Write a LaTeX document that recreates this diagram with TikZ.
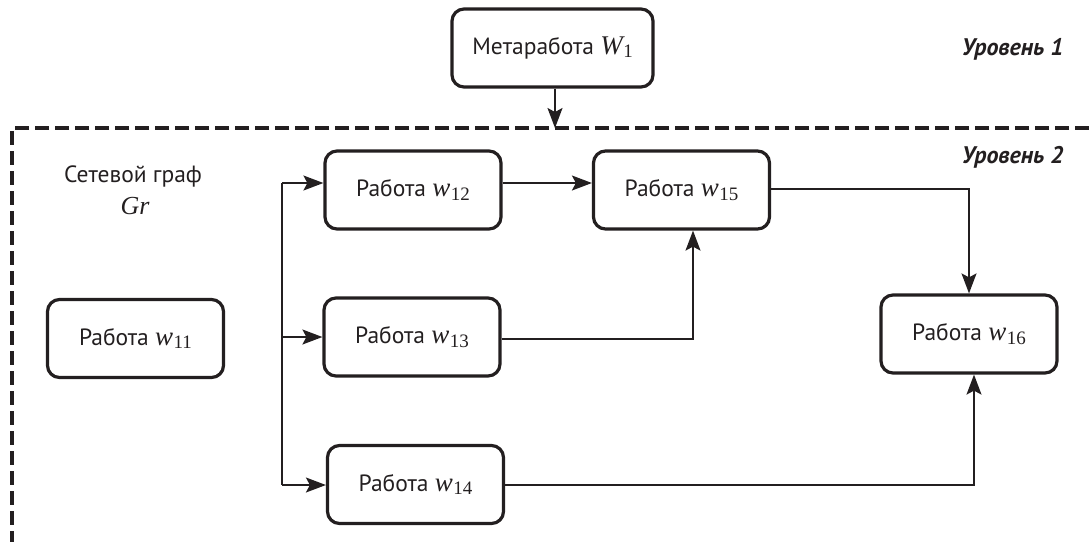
\documentclass[tikz,border=0pt]{standalone}
\usepackage{fontspec}
\setmainfont{PT Sans}
\newfontfamily\tmsfam{Liberation Serif}
\usetikzlibrary{arrows.meta}
\definecolor{ink}{HTML}{231F20}
\newcommand\wsub[2]{{\tmsfam\itshape\fontsize{27}{27}\selectfont #1}\kern0.5pt{\tmsfam\fontsize{19}{19}\selectfont\raisebox{-0.4ex}{#2}}}
\begin{document}
\begin{tikzpicture}[x=1pt,y=-1pt,
  box/.style={draw=ink, text=ink, line width=3.2pt, rounded corners=12pt, minimum width=176pt, minimum height=78pt, font=\fontsize{23.5}{27}\selectfont, inner sep=0pt},
  conn/.style={draw=ink, line width=1.6pt, -{Stealth[length=20pt,width=15pt,inset=4pt]}},
  plain/.style={draw=ink, line width=1.6pt},
  lvl/.style={text=ink, font=\fontsize{24}{27}\selectfont\bfseries\itshape},
  lbl/.style={text=ink, font=\fontsize{23.5}{27}\selectfont}]
\useasboundingbox (0,0) rectangle (1089,542);

% level frame
\draw[ink, line width=3.2pt, dash pattern=on 14pt off 6pt] (1089,128) -- (12,128) -- (12,542);

% nodes
\node[box, minimum width=201pt] (meta) at (552.5,48) {Метаработа \wsub{W}{1}};
\node[box] (w11) at (135.5,338.5) {Работа \wsub{w}{11}};
\node[box] (w12) at (413,190) {Работа \wsub{w}{12}};
\node[box] (w13) at (412,337) {Работа \wsub{w}{13}};
\node[box] (w14) at (415.5,484.5) {Работа \wsub{w}{14}};
\node[box] (w15) at (681.5,190) {Работа \wsub{w}{15}};
\node[box] (w16) at (969,334) {Работа \wsub{w}{16}};

\node[lbl] (gr1) at (133,176) {Сетевой граф};
\node[lbl] (gr2) at (135,206) {\tmsfam\itshape\fontsize{26}{27}\selectfont Gr};
\node[lvl, anchor=east] (l1) at (1067,49) {Уровень 1};
\node[lvl, anchor=east] (l2) at (1067,157) {Уровень 2};

% helper coordinates
\coordinate (top) at (555,128);
\coordinate (b1) at (282,183);
\coordinate (b2) at (282,337);
\coordinate (b3) at (282,485);
\coordinate (y13) at (0,339);
\coordinate (y15) at (0,189);
\coordinate (y14) at (0,485);

% connectors
\draw[conn] ([xshift=2.5pt]meta.south) -- (top);
\draw[plain] (b1) -- (b3);
\draw[conn] (b1) -- (w12.west |- b1);
\draw[conn] (b2) -- (w13.west |- b2);
\draw[conn] (b3) -- (w14.west |- b3);
\draw[conn] (w12.east |- b1) -- (w15.west |- b1);
\draw[conn] (w13.east |- y13) -| ([xshift=11.5pt]w15.south);
\draw[conn] (w15.east |- y15) -| (w16.north);
\draw[conn] (w14.east |- y14) -| ([xshift=5pt]w16.south);
\end{tikzpicture}
\end{document}
